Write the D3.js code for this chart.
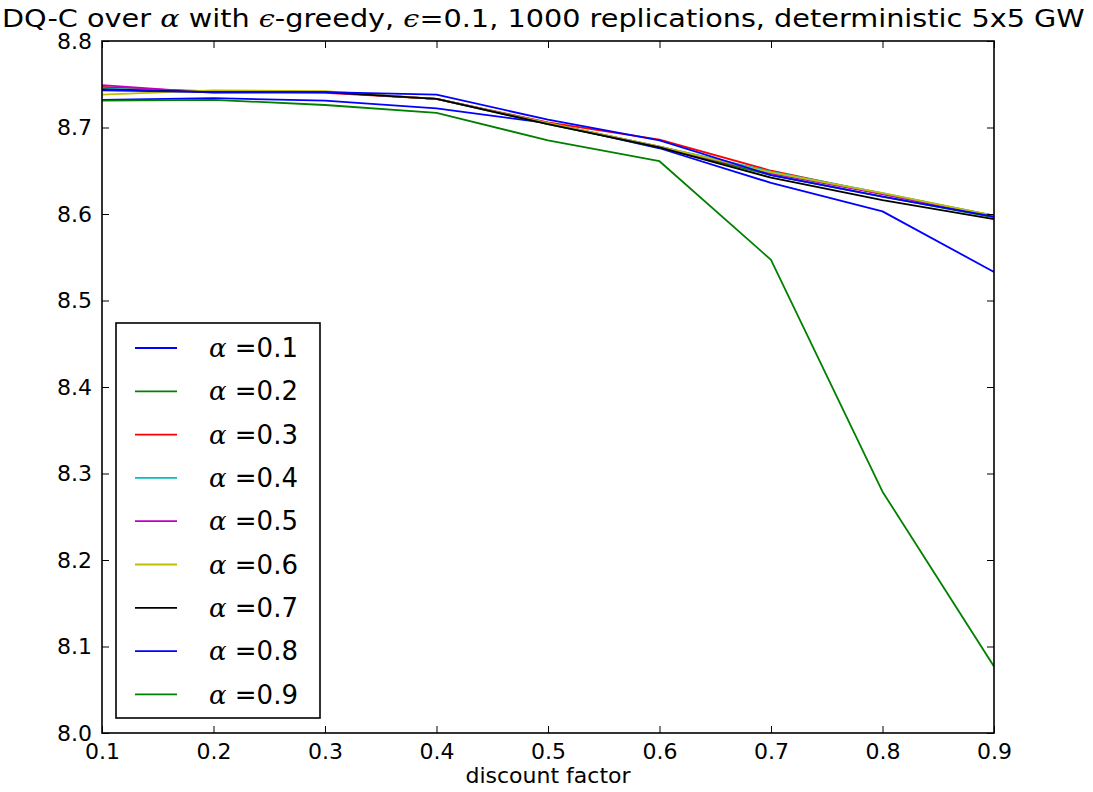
<!DOCTYPE html>
<html>
<head>
<meta charset="utf-8">
<script src="https://cdn.jsdelivr.net/npm/d3@7"></script>
<style>
  body { margin: 0; background: #fff; }
  text { font-family: "DejaVu Sans", sans-serif; fill: #000; }
  .math { font-family: "DejaVu Serif", serif; font-style: italic; }
</style>
</head>
<body>
<svg width="1093" height="792"></svg>
<script>
// discount factors on the x axis
var gammas = [0.1, 0.2, 0.3, 0.4, 0.5, 0.6, 0.7, 0.8, 0.9];

// one array per learning rate alpha
var alpha01 = [8.732, 8.734, 8.731, 8.722, 8.705, 8.676, 8.636, 8.603, 8.533];
var alpha02 = [8.744, 8.742, 8.741, 8.733, 8.704, 8.677, 8.645, 8.620, 8.596];
var alpha03 = [8.747, 8.741, 8.740, 8.733, 8.706, 8.686, 8.650, 8.623, 8.598];
var alpha04 = [8.745, 8.742, 8.741, 8.733, 8.705, 8.678, 8.649, 8.624, 8.598];
var alpha05 = [8.749, 8.740, 8.741, 8.733, 8.705, 8.678, 8.647, 8.623, 8.597];
var alpha06 = [8.738, 8.743, 8.742, 8.733, 8.705, 8.678, 8.648, 8.624, 8.598];
var alpha07 = [8.744, 8.741, 8.741, 8.733, 8.704, 8.677, 8.642, 8.616, 8.594];
var alpha08 = [8.743, 8.741, 8.741, 8.738, 8.709, 8.685, 8.645, 8.620, 8.597];
var alpha09 = [8.731, 8.732, 8.726, 8.717, 8.685, 8.661, 8.547, 8.279, 8.077];

var alphaLabels = ["0.1", "0.2", "0.3", "0.4", "0.5", "0.6", "0.7", "0.8", "0.9"];
var colors = ["#0000ff", "#008000", "#ff0000", "#00bfbf", "#bf00bf", "#bfbf00", "#000000", "#0000ff", "#008000"];

var xTicks = [0.1, 0.2, 0.3, 0.4, 0.5, 0.6, 0.7, 0.8, 0.9];
var yTicks = [8.0, 8.1, 8.2, 8.3, 8.4, 8.5, 8.6, 8.7, 8.8];

var series = [alpha01, alpha02, alpha03, alpha04, alpha05, alpha06, alpha07, alpha08, alpha09]
    .map(function(vals, i) {
        return {
            label: alphaLabels[i],
            color: colors[i],
            values: vals.map(function(v, j) { return {x: gammas[j], y: v}; })
        };
    });

//Boilerplate
var svg = d3.select("svg"),
    margin = {top: 41, right: 99, bottom: 59, left: 102},
    width = svg.attr("width") - margin.left - margin.right,
    height = svg.attr("height") - margin.top - margin.bottom;

var x = d3.scaleLinear().domain([0.1, 0.9]).range([0, width]),
    y = d3.scaleLinear().domain([8.0, 8.8]).range([height, 0]);

var g = svg.append("g")
    .attr("transform", "translate(" + margin.left + "," + margin.top + ")");

g.append("defs").append("clipPath").attr("id", "clip")
    .append("rect").attr("width", width).attr("height", height);

var line = d3.line()
    .x(function(d) { return x(d.x); })
    .y(function(d) { return y(d.y); });

// the lines, drawn in legend order
g.append("g")
    .attr("clip-path", "url(#clip)")
    .selectAll(".series")
    .data(series)
    .enter().append("path")
    .attr("class", "series")
    .attr("fill", "none")
    .attr("stroke", function(d) { return d.color; })
    .attr("stroke-width", 1.8)
    .attr("stroke-linejoin", "round")
    .attr("d", function(d) { return line(d.values); });

// axes, ticks pointing inwards on all four sides
var tickLen = 7;
var fmt = d3.format(".1f");

function styleAxis(sel) {
    sel.select(".domain").remove();
    sel.selectAll(".tick line").attr("stroke", "#000").attr("stroke-width", 1);
    sel.selectAll(".tick text").style("font-size", "22px").style("font-family", "DejaVu Sans");
}

g.append("g")
    .attr("transform", "translate(0," + height + ")")
    .call(d3.axisBottom(x).tickValues(xTicks).tickFormat(fmt).tickSizeInner(-tickLen).tickPadding(10))
    .call(styleAxis);

g.append("g")
    .call(d3.axisTop(x).tickValues(xTicks).tickFormat("").tickSizeInner(-tickLen))
    .call(styleAxis);

g.append("g")
    .call(d3.axisLeft(y).tickValues(yTicks).tickFormat(fmt).tickSizeInner(-tickLen).tickPadding(10))
    .call(styleAxis);

g.append("g")
    .attr("transform", "translate(" + width + ",0)")
    .call(d3.axisRight(y).tickValues(yTicks).tickFormat("").tickSizeInner(-tickLen))
    .call(styleAxis);

// frame
g.append("rect")
    .attr("width", width)
    .attr("height", height)
    .attr("fill", "none")
    .attr("stroke", "#000")
    .attr("stroke-width", 1.6);

// legend
var legend = g.append("g")
    .attr("transform", "translate(" + (116 - margin.left) + "," + (323 - margin.top) + ")");

legend.append("rect")
    .attr("width", 204)
    .attr("height", 395)
    .attr("fill", "#fff")
    .attr("stroke", "#000")
    .attr("stroke-width", 1.6);

var item = legend.selectAll(".item")
    .data(series)
    .enter().append("g")
    .attr("class", "item")
    .attr("transform", function(d, i) { return "translate(0," + (25 + i * 43.3) + ")"; });

item.append("line")
    .attr("x1", 19).attr("x2", 61)
    .attr("stroke", function(d) { return d.color; })
    .attr("stroke-width", 1.8);

var itemText = item.append("text")
    .attr("x", 93)
    .attr("dy", "0.35em")
    .style("font-size", "26px");
itemText.append("tspan").attr("class", "math").text("α");
itemText.append("tspan").text(function(d) { return " =" + d.label; });

// title
var title = svg.append("text")
    .attr("x", 0)
    .attr("y", 27)
    .style("font-size", "24px");
title.append("tspan").text("DQ-C over ");
title.append("tspan").attr("class", "math").text("α");
title.append("tspan").text(" with ");
title.append("tspan").attr("class", "math").text("ϵ");
title.append("tspan").text("-greedy, ");
title.append("tspan").attr("class", "math").text("ϵ");
title.append("tspan").text("=0.1, 1000 replications, deterministic 5x5 GW");

// squeeze the title to the reference width
var tw = title.node().getComputedTextLength();
title.attr("transform", "translate(2,0) scale(" + (1083 / tw) + ",1)");

// x label
svg.append("text")
    .attr("x", margin.left + width / 2)
    .attr("y", 783)
    .attr("text-anchor", "middle")
    .style("font-size", "22px")
    .text("discount factor");
</script>
</body>
</html>
